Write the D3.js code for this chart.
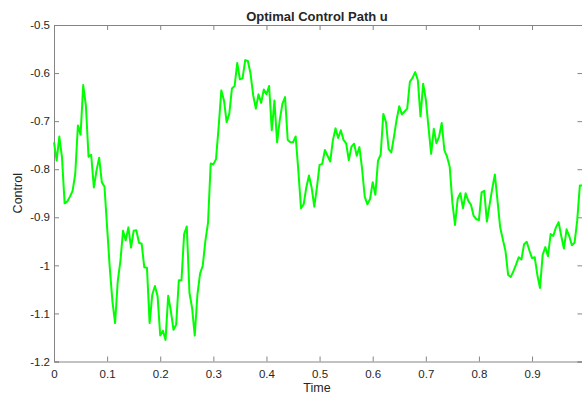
<!DOCTYPE html>
<html>
<head>
<meta charset="utf-8">
<script src="https://cdn.jsdelivr.net/npm/d3@7"></script>
<style>
  html, body { margin: 0; padding: 0; background: #fff; }
  svg { display: block; font-family: "Liberation Sans", Arial, Helvetica, sans-serif; }
</style>
</head>
<body>
<svg id="chart" width="582" height="397"></svg>
<script>
// Control trajectory u(t), sampled every 0.005 time units
const dt = 0.005;
const controlValues = [
  -0.744, -0.782, -0.732, -0.775, -0.871, -0.867, -0.857, -0.845, -0.810, -0.709,
  -0.728, -0.625, -0.667, -0.774, -0.770, -0.838, -0.803, -0.776, -0.827, -0.836,
  -0.921, -1.005, -1.075, -1.120, -1.033, -0.991, -0.928, -0.948, -0.921, -0.963,
  -0.928, -0.927, -0.953, -0.955, -1.004, -1.005, -1.120, -1.061, -1.043, -1.064,
  -1.146, -1.136, -1.155, -1.063, -1.095, -1.134, -1.123, -1.031, -1.031, -0.935,
  -0.919, -1.057, -1.089, -1.146, -1.061, -1.017, -1.001, -0.949, -0.911, -0.788,
  -0.790, -0.779, -0.712, -0.636, -0.657, -0.702, -0.685, -0.632, -0.627, -0.579,
  -0.613, -0.611, -0.573, -0.575, -0.601, -0.646, -0.674, -0.644, -0.662, -0.634,
  -0.644, -0.627, -0.719, -0.657, -0.744, -0.698, -0.664, -0.650, -0.739, -0.744,
  -0.744, -0.732, -0.803, -0.881, -0.873, -0.838, -0.813, -0.838, -0.878, -0.838,
  -0.791, -0.789, -0.760, -0.772, -0.784, -0.740, -0.715, -0.735, -0.719, -0.739,
  -0.746, -0.781, -0.753, -0.747, -0.772, -0.754, -0.799, -0.857, -0.873, -0.862,
  -0.827, -0.853, -0.782, -0.770, -0.685, -0.702, -0.758, -0.765, -0.733, -0.697,
  -0.669, -0.686, -0.680, -0.674, -0.618, -0.610, -0.598, -0.615, -0.690, -0.622,
  -0.655, -0.712, -0.768, -0.716, -0.746, -0.732, -0.704, -0.761, -0.774, -0.795,
  -0.869, -0.916, -0.862, -0.850, -0.881, -0.850, -0.866, -0.874, -0.897, -0.904,
  -0.906, -0.848, -0.845, -0.909, -0.874, -0.841, -0.811, -0.866, -0.921, -0.946,
  -0.970, -1.020, -1.024, -1.012, -0.998, -0.983, -0.988, -0.956, -0.951, -0.969,
  -0.985, -0.983, -1.020, -1.047, -0.978, -0.962, -0.981, -0.935, -0.939, -0.921,
  -0.910, -0.939, -0.965, -0.925, -0.939, -0.958, -0.953, -0.907, -0.834, -0.834
];
const timeValues = controlValues.map((_, i) => i * dt);

const xTicks = [0, 0.1, 0.2, 0.3, 0.4, 0.5, 0.6, 0.7, 0.8, 0.9];
const yTicks = [-0.5, -0.6, -0.7, -0.8, -0.9, -1, -1.1, -1.2];
const titleText = "Optimal Control Path u";
const xLabelText = "Time";
const yLabelText = "Control";

const svg = d3.select("#chart");
const W = 582, H = 397;
const margin = { left: 54, top: 25, right: -0.5, bottom: 35.5 };
const x0 = margin.left, x1 = W - margin.right;
const y0 = margin.top, y1 = H - margin.bottom;

const x = d3.scaleLinear().domain([0, timeValues[timeValues.length - 1]]).range([x0, x1]);
const y = d3.scaleLinear().domain([-1.2, -0.5]).range([y1, y0]);

const axisColor = "#858585";
const textColor = "#262626";
const tickLen = 5;

// Bottom axis (ticks point inward)
const gx = svg.append("g").attr("transform", `translate(0,${y1})`)
  .call(d3.axisBottom(x).tickValues(xTicks).tickSize(-tickLen).tickPadding(8).tickFormat(d => String(d)));
// Top axis (mirrored ticks, no labels)
const gxt = svg.append("g").attr("transform", `translate(0,${y0})`)
  .call(d3.axisTop(x).tickValues(xTicks).tickSize(-tickLen).tickFormat(""));
// Left axis
const gy = svg.append("g").attr("transform", `translate(${x0},0)`)
  .call(d3.axisLeft(y).tickValues(yTicks).tickSize(-tickLen).tickPadding(8).tickFormat(d => String(d)));
// Right axis (mirrored ticks)
const gyr = svg.append("g").attr("transform", `translate(${x1},0)`)
  .call(d3.axisRight(y).tickValues(yTicks).tickSize(-tickLen).tickFormat(""));

[gx, gxt, gy, gyr].forEach(g => {
  g.select(".domain").attr("stroke", axisColor).attr("stroke-width", 1);
  g.selectAll(".tick line").attr("stroke", axisColor).attr("stroke-width", 1);
  g.selectAll(".tick text").attr("fill", textColor).attr("font-size", 11.5)
    .attr("font-family", "'Liberation Sans', Arial, sans-serif");
});
gy.selectAll(".tick text").attr("dx", 4);

// Control path
const line = d3.line().x((d, i) => x(timeValues[i])).y(d => y(d));
svg.append("path")
  .datum(controlValues)
  .attr("fill", "none")
  .attr("stroke", "#00ff00")
  .attr("stroke-width", 2)
  .attr("stroke-linejoin", "round")
  .attr("d", line);

// Title and axis labels
svg.append("text")
  .attr("x", 317).attr("y", 21)
  .attr("text-anchor", "middle")
  .attr("font-size", 13).attr("font-weight", "bold")
  .attr("fill", textColor)
  .text(titleText);

svg.append("text")
  .attr("x", 317).attr("y", 392)
  .attr("text-anchor", "middle")
  .attr("font-size", 12.5)
  .attr("fill", textColor)
  .text(xLabelText);

svg.append("text")
  .attr("transform", `translate(22,${(y0 + y1) / 2}) rotate(-90)`)
  .attr("text-anchor", "middle")
  .attr("font-size", 12.5)
  .attr("fill", textColor)
  .text(yLabelText);
</script>
</body>
</html>
